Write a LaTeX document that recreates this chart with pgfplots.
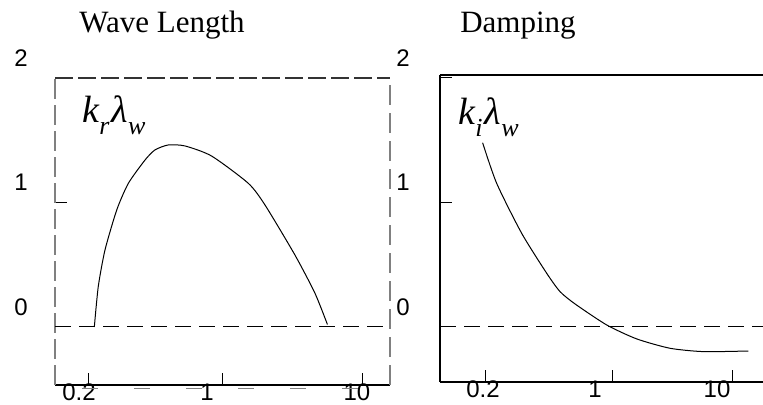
\documentclass[border=0pt]{standalone}
\usepackage{fontspec}
\setmainfont{Liberation Serif}
\newfontfamily\arial{Liberation Sans}
\usepackage{pgfplots}
\pgfplotsset{compat=1.18}

% subscript for the italic labels, and a tick label shifted left by half of #1
\newcommand\sub[1]{\raisebox{-0.3em}{\fontsize{13pt}{13pt}\selectfont #1}\kern1.2pt}
\newcommand\shl[2]{\makebox[0pt]{#2\hspace{#1}}}

\pgfplotsset{
  panel/.style={
    scale only axis, anchor=south west,
    axis x line*=bottom, axis y line*=left,
    axis line style={-, black, line width=0.6pt},
    tick align=inside, major tick length=6pt,
    tick style={black, line width=0.5pt},
    ytick={0,1,2}, yticklabels={0,1,2},
    xticklabel style={anchor=north, yshift=4pt},
    ticklabel style={font=\arial\fontsize{12}{12}\selectfont},
    clip=false,
  },
  zero/.style={black, line width=0.5pt, dash pattern=on 8pt off 4pt},
  curve/.style={black, line width=0.5pt, smooth, tension=0.4},
}

\begin{document}
\begin{tikzpicture}
\useasboundingbox (0,0) rectangle (381.5pt,202.5pt);

% ---- Wave Length ----
\begin{axis}[panel,
  at={(27.5pt,10pt)}, width=167.5pt, height=153.5pt,
  xmin=-1.2, xmax=1.193, ymin=-0.466, ymax=2.0,
  xtick={-0.964,0,1},
  xticklabels={\shl{9pt}{0.2},\shl{16pt}{1},\shl{6pt}{10}},
  yticklabel style={anchor=center, xshift=-17pt, yshift=10pt},
  y axis line style={gray, line width=0.7pt, dash pattern=on 10pt off 3pt},
]
\addplot[zero] coordinates {(-1.2,0) (1.193,0)};
\addplot[curve] coordinates {
  (-0.919,0.00) (-0.891,0.324) (-0.843,0.618) (-0.759,0.940)
  (-0.676,1.154) (-0.557,1.341) (-0.486,1.422) (-0.391,1.462)
  (-0.271,1.454) (-0.081,1.373) (0.181,1.154) (0.300,0.980)
  (0.514,0.578) (0.657,0.271) (0.746,0.02)};
\draw[black!80, line width=0.6pt, dash pattern=on 9pt off 2.5pt]
  (rel axis cs:0,1) -- (rel axis cs:1,1);
\draw[gray, line width=1.2pt, dash pattern=on 10pt off 4pt]
  (rel axis cs:1,0) -- (rel axis cs:1,1);
\draw[gray, line width=0.5pt, dash pattern=on 8pt off 18pt]
  ([yshift=-1.6pt]rel axis cs:0.08,0) -- ([yshift=-1.6pt]rel axis cs:1,0);
\end{axis}

% ---- Damping ----
\begin{axis}[panel,
  at={(220pt,11.5pt)}, width=161.5pt, height=153.5pt,
  xmin=-1.433, xmax=1.258, ymin=-0.442, ymax=2.024,
  xtick={-1.058,0,1},
  xticklabels={\shl{2pt}{0.2},\shl{17pt}{1},\shl{15pt}{10}},
  yticklabel style={anchor=center, xshift=-18.5pt, yshift=10pt},
]
\addplot[zero] coordinates {(-1.433,0) (1.258,0)};
\addplot[curve] coordinates {
  (-1.078,1.480) (-0.961,1.154) (-0.753,0.753) (-0.544,0.431)
  (-0.433,0.284) (-0.308,0.185) (-0.044,0.016) (0.206,-0.096)
  (0.483,-0.171) (0.761,-0.198) (1.136,-0.193)};
\draw[black, line width=0.75pt] (rel axis cs:0,1) -- (rel axis cs:1,1);
\end{axis}

% titles and curve labels
\node[anchor=base, font=\fontsize{15.5}{16}\selectfont] at (81pt,186pt) {Wave Length};
\node[anchor=base, font=\fontsize{15.5}{16}\selectfont] at (259pt,186pt) {Damping};
\node[anchor=base west, inner sep=0pt, font=\fontsize{19}{19}\selectfont\itshape]
  at (41pt,141pt) {k\sub{r}λ\sub{w}};
\node[anchor=base west, inner sep=0pt, font=\fontsize{19}{19}\selectfont\itshape]
  at (229pt,140pt) {k\sub{i}λ\sub{w}};
\end{tikzpicture}
\end{document}
